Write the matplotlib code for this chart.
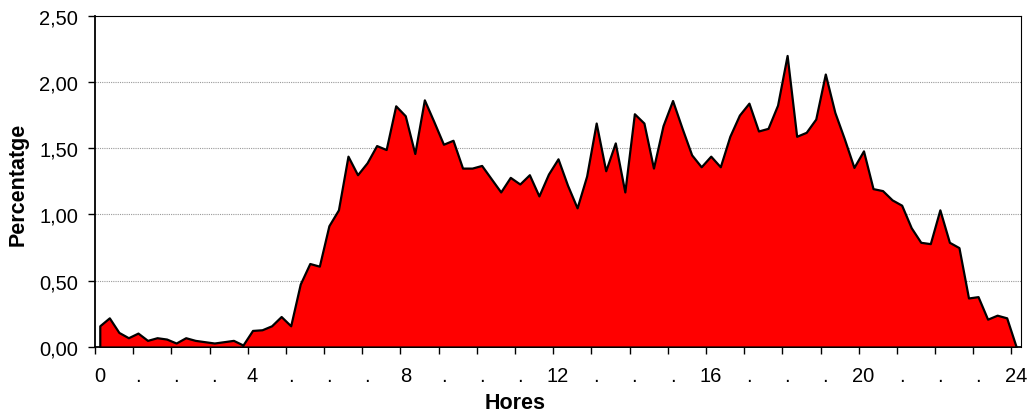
import numpy as np
import matplotlib
matplotlib.use("Agg")
import matplotlib.pyplot as plt

# 15-minute intervals, 0:00 to 24:00
percentatge = [
    0.16, 0.22, 0.11, 0.07, 0.105, 0.05, 0.07, 0.06, 0.03, 0.07, 0.05, 0.04, 0.03, 0.04, 0.05, 0.015,
    0.125, 0.13, 0.16, 0.23, 0.16, 0.475, 0.63, 0.61, 0.915, 1.035, 1.44, 1.30, 1.39, 1.52, 1.49, 1.82,
    1.745, 1.46, 1.865, 1.70, 1.53, 1.56, 1.35, 1.35, 1.37, 1.27, 1.17, 1.28, 1.23, 1.30, 1.14, 1.305,
    1.42, 1.22, 1.05, 1.29, 1.69, 1.33, 1.54, 1.17, 1.76, 1.69, 1.35, 1.67, 1.86, 1.65, 1.45, 1.36,
    1.44, 1.36, 1.59, 1.75, 1.84, 1.63, 1.65, 1.825, 2.20, 1.59, 1.62, 1.72, 2.06, 1.77, 1.57, 1.355,
    1.48, 1.195, 1.18, 1.11, 1.07, 0.90, 0.79, 0.78, 1.035, 0.79, 0.75, 0.37, 0.38, 0.21, 0.24, 0.22,
    0.00,
]
hores = list(range(25))
hour_labels = [str(h) if h % 4 == 0 else "." for h in hores]
y_ticks = [0.0, 0.5, 1.0, 1.5, 2.0, 2.5]
y_labels = ["0,00", "0,50", "1,00", "1,50", "2,00", "2,50"]

plt.rcParams['font.family'] = ['Liberation Sans', 'DejaVu Sans']

W, H = 1032, 414
fig = plt.figure(figsize=(W / 100, H / 100), dpi=100)
left, right, top, bottom = 95, 1021, 16.7, 348
ax = fig.add_axes([left / W, 1 - bottom / H, (right - left) / W, (bottom - top) / H])

x = np.arange(len(percentatge))
ax.fill_between(x, percentatge, 0, facecolor="#FF0000", edgecolor="black",
                linewidth=1.6, zorder=3)

ax.set_xlim(-0.5, len(percentatge) - 0.5)
ax.set_ylim(0, 2.5)

# major ticks between categories (marks), minor at label positions (text)
ax.set_xticks(np.arange(-0.5, len(percentatge) - 1, 4))
ax.set_xticklabels([])
ax.set_xticks([h * 4 for h in hores], minor=True)
ax.set_xticklabels(hour_labels, minor=True)
ax.tick_params(axis="x", which="major", direction="out", length=5, width=1, color="black")
ax.tick_params(axis="x", which="minor", length=0, pad=14, labelsize=14.5)

ax.set_yticks(y_ticks)
ax.set_yticklabels(y_labels)
ax.tick_params(axis="y", direction="out", length=5, width=1, pad=7, labelsize=14.5)

for yv in y_ticks[1:-1]:
    ax.axhline(yv, color="#9a9a9a", linewidth=0.8, linestyle=(0, (1, 1)), zorder=1)

for s in ["left", "bottom"]:
    ax.spines[s].set_linewidth(1.3)
    ax.spines[s].set_color("black")
for s in ["top", "right"]:
    ax.spines[s].set_linewidth(0.8)
    ax.spines[s].set_color("black")

fig.text(18.5 / W, 1 - 184 / H, "Percentatge", rotation=90, ha="center", va="center",
         fontsize=15.5, fontweight="bold")
fig.text(515.5 / W, 1 - 404 / H, "Hores", ha="center", va="center",
         fontsize=15.5, fontweight="bold")

fig.savefig("out.png", dpi=100)
